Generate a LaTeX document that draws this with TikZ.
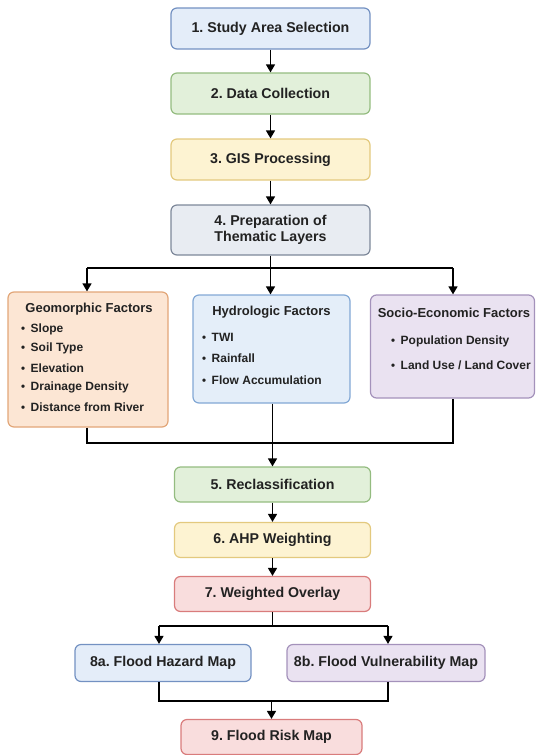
\documentclass[tikz,border=0pt]{standalone}
\usepackage{fontspec}
\setmainfont{Liberation Sans}
\usetikzlibrary{arrows.meta}
\frenchspacing
\definecolor{txt}{HTML}{222222}
\definecolor{bluef}{HTML}{E4EDF9}\definecolor{blued}{HTML}{7391C2}
\definecolor{greenf}{HTML}{E2F0DA}\definecolor{greend}{HTML}{94BC80}
\definecolor{yellowf}{HTML}{FDF3D2}\definecolor{yellowd}{HTML}{E3C97E}
\definecolor{grayf}{HTML}{E8ECF2}\definecolor{grayd}{HTML}{7D889A}
\definecolor{orangef}{HTML}{FCE6D4}\definecolor{oranged}{HTML}{E2A678}
\definecolor{hydf}{HTML}{E4EEF9}\definecolor{hydd}{HTML}{82A8D5}
\definecolor{purplef}{HTML}{EAE2F1}\definecolor{purpled}{HTML}{A492BB}
\definecolor{redf}{HTML}{F9DDDD}\definecolor{redd}{HTML}{D97C7C}
\tikzset{
  box/.style={draw, line width=1.2pt, rounded corners=6pt, minimum width=#1, inner sep=0pt, text=txt, font=\bfseries\fontsize{14.2}{16.5}\selectfont, align=center},
  box/.default=199pt,
  lbl/.style={inner sep=0pt, text=txt, font=\bfseries\fontsize{13}{15}\selectfont},
  item/.style={inner sep=0pt, text=txt, anchor=west, font=\bfseries\fontsize{12}{14}\selectfont},
  conn/.style={line width=1.4pt, black},
  arr/.style={conn, -{Triangle[width=9pt,length=8pt]}},
}
\newcommand{\bul}{{\fontsize{11.5}{12}\selectfont\textbullet}\hspace{5.5pt}}
\begin{document}
\begin{tikzpicture}[x=1pt,y=-1pt]
\useasboundingbox (0,0) rectangle (537,755);
\node[box, fill=bluef, draw=blued, minimum height=41pt] (s1) at (270.5,28.5) {1. Study Area Selection};
\node[box, fill=greenf, draw=greend, minimum height=41pt] (s2) at (270.5,93.5) {2. Data Collection};
\node[box, fill=yellowf, draw=yellowd, minimum height=41pt] (s3) at (270.5,159.5) {3. GIS Processing};
\node[box, fill=grayf, draw=grayd, minimum height=50pt] (s4) at (270.5,230) {4. Preparation of\\Thematic Layers};
% factor boxes
\node[box=160pt, fill=orangef, draw=oranged, minimum height=135pt] (geo) at (88,359.5) {};
\node[box=157pt, fill=hydf, draw=hydd, minimum height=108pt] (hyd) at (271.5,349) {};
\node[box=164pt, fill=purplef, draw=purpled, minimum height=103pt] (soc) at (452.5,346.5) {};
\node[lbl] (geot) at (89,309) {Geomorphic Factors};
\node[item] (g1) at (21,329) {\bul Slope};
\node[item] (g2) at (21,348.5) {\bul Soil Type};
\node[item] (g3) at (21,368) {\bul Elevation};
\node[item] (g4) at (21,387.5) {\bul Drainage Density};
\node[item] (g5) at (21,407) {\bul Distance from River};
\node[lbl] (hydt) at (271.5,312) {Hydrologic Factors};
\node[item] (h1) at (202,337) {\bul TWI};
\node[item] (h2) at (202,358.5) {\bul Rainfall};
\node[item] (h3) at (202,380) {\bul Flow Accumulation};
\node[lbl] (soct) at (454,313) {Socio-Economic Factors};
\node[item] (c1) at (391,341) {\bul Population Density};
\node[item] (c2) at (391,365) {\bul Land Use / Land Cover};
% lower steps
\node[box=196pt, fill=greenf, draw=greend, minimum height=35pt] (s5) at (272.5,484.5) {5. Reclassification};
\node[box=196pt, fill=yellowf, draw=yellowd, minimum height=35pt] (s6) at (272.5,540) {6. AHP Weighting};
\node[box=196pt, fill=redf, draw=redd, minimum height=35pt] (s7) at (272.5,594) {7. Weighted Overlay};
\node[box=176pt, fill=bluef, draw=blued, minimum height=37pt] (m8a) at (163,663) {8a. Flood Hazard Map};
\node[box=198pt, fill=purplef, draw=purpled, minimum height=37pt] (m8b) at (386,663) {8b. Flood Vulnerability Map};
\node[box=181pt, fill=redf, draw=redd, minimum height=35pt] (s9) at (271.5,737) {9. Flood Risk Map};
% coordinates
\coordinate (sp1) at (270.5,268);
\coordinate (spL) at (87,268);
\coordinate (spR) at (453,268);
\coordinate (mgL) at (87,443);
\coordinate (mgR) at (453,443);
\coordinate (sp2) at (272.5,626);
\coordinate (sp2L) at (159,626);
\coordinate (sp2R) at (388,626);
\coordinate (mg2L) at (159,701);
\coordinate (mg2R) at (388,701);
% connectors
\draw[arr] (s1) -- (s2);
\draw[arr] (s2) -- (s3);
\draw[arr] (s3) -- (s4);
\draw[conn] (s4.south) -- (sp1);
\draw[conn] (spL) -- (spR);
\draw[arr] (spL) -- (spL |- geo.north);
\draw[arr] (sp1) -- (sp1 |- hyd.north);
\draw[arr] (spR) -- (spR |- soc.north);
\draw[conn] (geo.south -| mgL) -- (mgL) -- (mgR) -- (soc.south -| mgR);
\draw[arr] (hyd.south -| s5.north) -- (s5.north);
\draw[arr] (s5) -- (s6);
\draw[arr] (s6) -- (s7);
\draw[conn] (s7.south) -- (sp2);
\draw[conn] (sp2L) -- (sp2R);
\draw[arr] (sp2L) -- (sp2L |- m8a.north);
\draw[arr] (sp2R) -- (sp2R |- m8b.north);
\draw[conn] (m8a.south -| mg2L) -- (mg2L) -- (mg2R) -- (m8b.south -| mg2R);
\draw[arr] (mg2L -| s9.north) -- (s9.north);
\end{tikzpicture}
\end{document}
